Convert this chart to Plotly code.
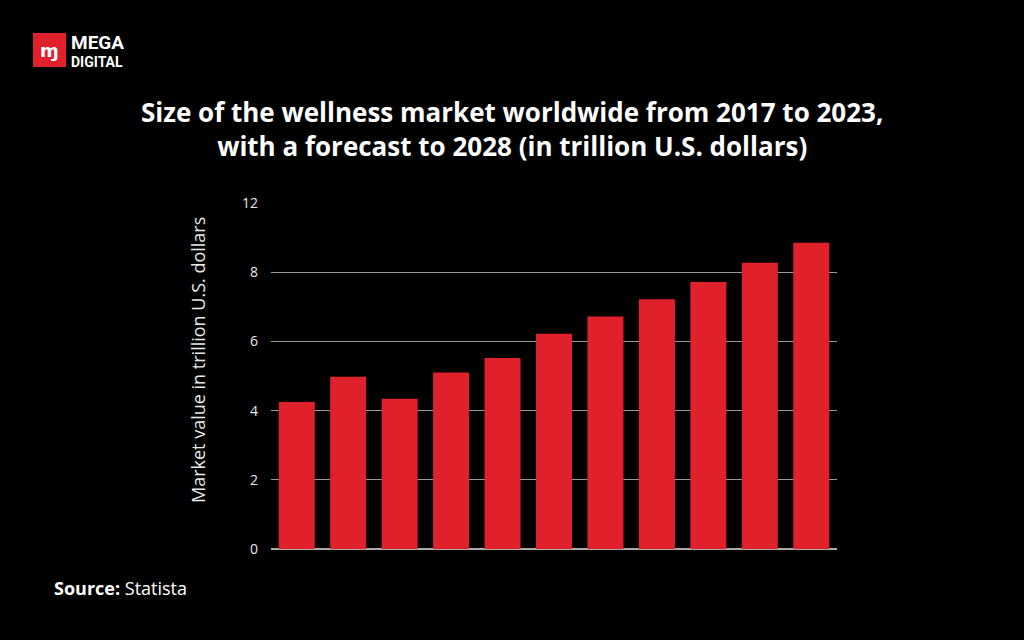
import plotly.graph_objects as go

years = ["2017", "2019", "2020", "2021", "2022", "2023", "2024", "2025", "2026", "2027", "2028"]
values = [4.25, 4.98, 4.34, 5.10, 5.52, 6.22, 6.72, 7.22, 7.72, 8.27, 8.85]
tick_vals = [0, 2, 4, 6, 8, 10]
tick_text = ["0", "2", "4", "6", "8", "12"]

title_text = ("Size of the wellness market worldwide from 2017 to 2023,<br>"
              "with a forecast to 2028 (in trillion U.S. dollars)")
y_title = "Market value in trillion U.S. dollars"

FONT = "Open Sans"

fig = go.Figure(go.Bar(x=years, y=values, marker=dict(color="#E0202B", line=dict(width=0)),
                       hoverinfo="x+y"))

fig.update_layout(
    width=1024, height=640,
    paper_bgcolor="#000000", plot_bgcolor="#000000",
    margin=dict(l=271, r=187, t=203, b=91),
    bargap=0.3,
    showlegend=False,
    font=dict(family=FONT, color="#FFFFFF"),
    xaxis=dict(showticklabels=False, showgrid=False, zeroline=False, showline=False, ticks=""),
    yaxis=dict(range=[0, 10], tickvals=tick_vals, ticktext=tick_text,
               showgrid=True, gridcolor="#9A9A9A", gridwidth=1,
               zeroline=True, zerolinecolor="#AAAAAA", zerolinewidth=1.5,
               showline=False, ticks="", ticklabelstandoff=12,
               tickfont=dict(family=FONT, size=14, color="#E8E8E8")),
)

def px(x):
    return (x - 271) / 566

def py(y):
    return (549 - y) / 346

# title
fig.add_annotation(text="<b>" + title_text + "</b>", xref="paper", yref="paper",
                   x=px(512), y=py(129), xanchor="center", yanchor="middle",
                   showarrow=False, align="center",
                   font=dict(family=FONT, size=26, color="#FFFFFF"))
# y axis title
fig.add_annotation(text=y_title, xref="paper", yref="paper",
                   x=px(198), y=py(360), xanchor="center", yanchor="middle",
                   textangle=-90, showarrow=False,
                   font=dict(family=FONT, size=18, color="#E8E8E8"))
# source
fig.add_annotation(text="<b>Source:</b> Statista", xref="paper", yref="paper",
                   x=px(52), y=py(588), xanchor="left", yanchor="middle",
                   showarrow=False, font=dict(family=FONT, size=18, color="#FFFFFF"))

# logo
fig.add_shape(type="rect", xref="paper", yref="paper",
              x0=px(33), x1=px(66), y0=py(67), y1=py(33),
              fillcolor="#E0202B", line=dict(width=0), layer="above")
fig.add_annotation(text="<b>ɱ</b>", xref="paper", yref="paper",
                   x=px(49.5), y=py(50), xanchor="center", yanchor="middle",
                   showarrow=False, font=dict(family="DejaVu Sans", size=18, color="#FFFFFF"))
fig.add_annotation(text="<b><span style='font-size:19px'>MEGA</span></b><br><b>DIGITAL</b>",
                   xref="paper", yref="paper", align="left",
                   x=px(69), y=py(50), xanchor="left", yanchor="middle",
                   showarrow=False, font=dict(family="Roboto", size=14, color="#FFFFFF"))

fig.write_html("out.html", config={"displayModeBar": False},
               post_script="document.body.style.margin='0';document.body.style.background='#000';")
